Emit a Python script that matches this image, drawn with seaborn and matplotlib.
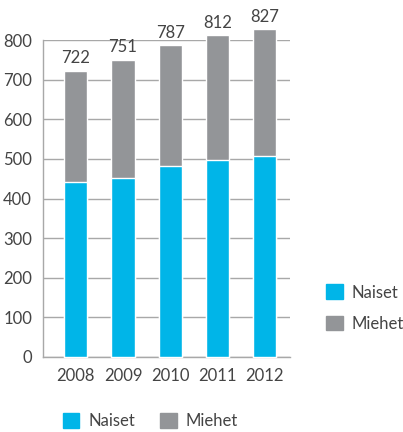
import matplotlib
matplotlib.use("Agg")
import matplotlib.pyplot as plt
import seaborn as sns
import pandas as pd
from matplotlib.patches import Patch

years = ["2008", "2009", "2010", "2011", "2012"]
naiset = [442, 453, 483, 498, 508]
miehet = [280, 298, 304, 314, 319]
totals = [n + m for n, m in zip(naiset, miehet)]

CYAN = "#00b5e8"
GREY = "#939598"
TEXT = "#444444"
LINE = "#a8a8a8"

sns.set_theme(style="white")
plt.rcParams["font.family"] = ["Lato", "DejaVu Sans"]
plt.rcParams["font.size"] = 12

df = pd.DataFrame({"year": years, "Naiset": naiset, "Miehet": miehet, "total": totals})

fig = plt.figure(figsize=(4.03, 4.32), dpi=100)
ax = fig.add_axes([0.107, 0.174, 0.613, 0.733])

# grey total bar behind, cyan women share in front
sns.barplot(data=df, x="year", y="total", color=GREY, width=0.49,
            saturation=1, ax=ax, zorder=3)
sns.barplot(data=df, x="year", y="Naiset", color=CYAN, width=0.49,
            saturation=1, ax=ax, zorder=4)
for p in ax.patches:
    p.set_clip_on(False)

for i, t in enumerate(totals):
    ax.text(i, t + 12, str(t), ha="center", va="bottom", fontsize=12, color=TEXT)

ax.set_ylim(0, 800)
ax.set_xlim(-0.69, 4.54)
ax.set_yticks(range(0, 801, 100))
ax.yaxis.grid(True, color=LINE, linewidth=1)
ax.set_axisbelow(True)
ax.set_xlabel("")
ax.set_ylabel("")
for s in ["top", "right"]:
    ax.spines[s].set_visible(False)
for s in ["left", "bottom"]:
    ax.spines[s].set_color(LINE)
    ax.spines[s].set_linewidth(1)
ax.tick_params(axis="both", length=0, labelsize=12, colors=TEXT, pad=8)

handles = [Patch(color=CYAN, label="Naiset"), Patch(color=GREY, label="Miehet")]
fig.legend(handles=handles, loc="center left", bbox_to_anchor=(0.772, 0.287),
           frameon=False, fontsize=12, handlelength=1.0, handleheight=1.0,
           labelspacing=0.9, handletextpad=0.55, labelcolor=TEXT)
fig.legend(handles=handles, loc="center left", bbox_to_anchor=(0.118, 0.026),
           frameon=False, fontsize=12, ncol=2, handlelength=1.0, handleheight=1.0,
           columnspacing=1.5, handletextpad=0.55, labelcolor=TEXT)

fig.savefig("out.png", dpi=100)
